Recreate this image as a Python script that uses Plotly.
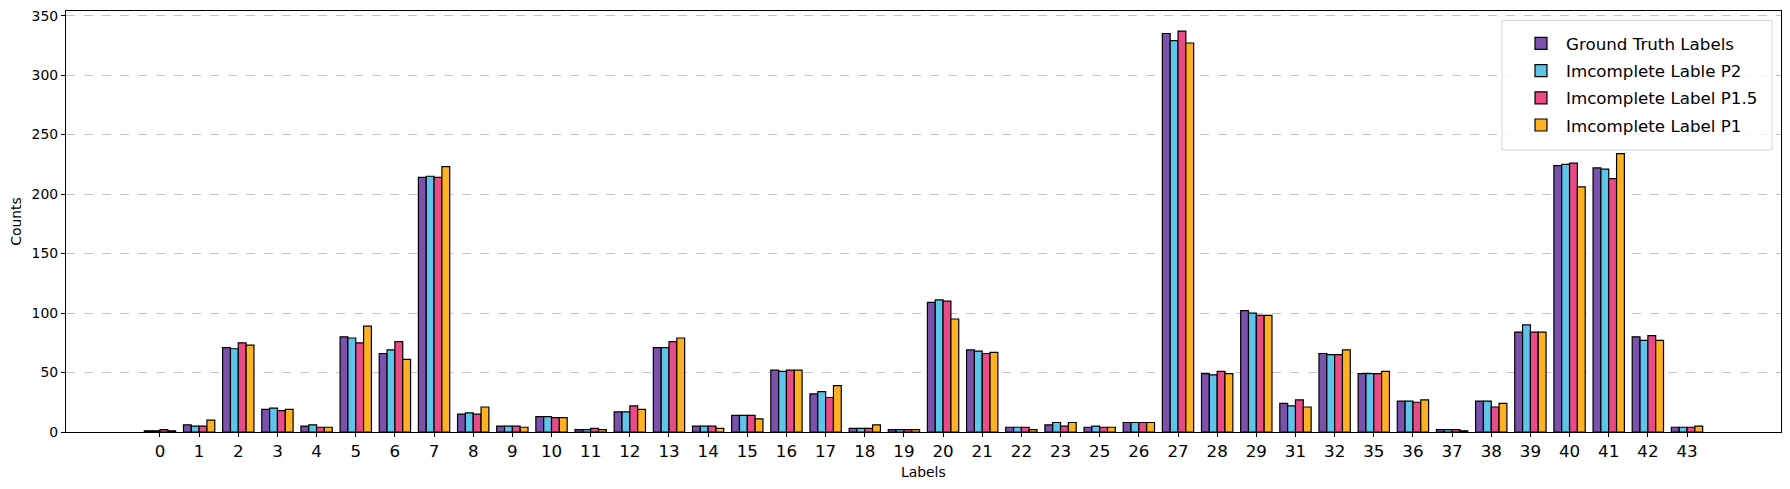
import plotly.graph_objects as go

categories = ["0","1","2","3","4","5","6","7","8","9","10","11","12","13","14","15","16","17","18","19",
              "20","21","22","23","25","26","27","28","29","31","32","35","36","37","38","39","40","41","42","43"]

ground_truth = [1,6,71,19,5,80,66,214,15,5,13,2,17,71,5,14,52,32,3,2,
                109,69,4,6,4,8,335,49,102,24,66,49,26,2,26,84,224,222,80,4]
incomplete_p2 = [1,5,70,20,6,79,69,215,16,5,13,2,17,71,5,14,51,34,3,2,
                 111,68,4,8,5,8,329,48,100,22,65,49,26,2,26,90,225,221,77,4]
incomplete_p15 = [2,5,75,18,4,75,76,214,15,5,12,3,22,76,5,14,52,29,3,2,
                  110,66,4,5,4,8,337,51,98,27,65,49,25,2,21,84,226,213,81,4]
incomplete_p1 = [1,10,73,19,4,89,61,223,21,4,12,2,19,79,3,11,52,39,6,2,
                 95,67,2,8,4,8,327,49,98,21,69,51,27,1,24,84,206,234,77,5]

series_names = ["Ground Truth Labels", "Imcomplete Lable P2", "Imcomplete Label P1.5", "Imcomplete Label P1"]
series_values = [ground_truth, incomplete_p2, incomplete_p15, incomplete_p1]
colors = ["#7B52AB", "#5EC4EA", "#E94B86", "#FFB124"]

fig = go.Figure()
for i, (name, vals, col) in enumerate(zip(series_names, series_values, colors)):
    fig.add_trace(go.Bar(
        x=categories, y=vals, name=name, legendgroup=f"g{i}",
        marker=dict(color=col, line=dict(color="black", width=1.2)),
    ))

W, H = 1790, 489
OFF = 8  # browser body margin
# plot area in page pixels
PL, PR, PT, PB = 66, 1781, 11, 432
ml, mt = PL - OFF, PT - OFF
mr = W - (PR - OFF)
mb = H - (PB - OFF)
pw, ph = PR - PL, PB - PT

def px_x(x):
    return (x - PL) / pw

def px_y(y):
    return 1 - (y - PT) / ph

fig.update_layout(
    width=W, height=H,
    margin=dict(l=ml, r=mr, t=mt, b=mb, pad=0),
    barmode="group", bargap=0.2, bargroupgap=0,
    plot_bgcolor="white", paper_bgcolor="white",
    font=dict(family="DejaVu Sans", color="black", size=14),
    showlegend=True,
    legend=dict(
        x=px_x(1516), xanchor="left",
        y=px_y(26), yanchor="top",
        bgcolor="rgba(0,0,0,0)", borderwidth=0,
        font=dict(size=16.7, family="DejaVu Sans"),
        itemwidth=40, tracegroupgap=2.5, traceorder="grouped",
    ),
    shapes=[dict(
        type="rect", xref="paper", yref="paper", layer="above",
        x0=px_x(1502), x1=px_x(1772), y0=px_y(150), y1=px_y(20.5),
        fillcolor="rgba(255,255,255,0.8)", line=dict(color="#d6d6d6", width=1),
    )],
    annotations=[dict(
        text="Labels", xref="paper", yref="paper",
        x=px_x(923), y=px_y(472), xanchor="center", yanchor="middle",
        showarrow=False, font=dict(size=13.9, family="DejaVu Sans", color="black"),
    )],
)
fig.update_xaxes(
    type="category", range=[-2.4, 41.4], automargin=False, ticklabeloverflow="allow",
    showline=True, linecolor="black", linewidth=1.2, mirror=True,
    ticks="outside", ticklen=4, tickcolor="black", tickwidth=1,
    tickfont=dict(size=16.7), showgrid=False,
)
fig.update_yaxes(
    range=[0, 353.9], tickvals=[0, 50, 100, 150, 200, 250, 300, 350],
    automargin=False, ticklabeloverflow="allow",
    showline=True, linecolor="black", linewidth=1.2, mirror=True,
    ticks="outside", ticklen=4, tickcolor="black", tickwidth=1,
    tickfont=dict(size=13.9),
    showgrid=True, gridcolor="rgba(180,180,180,0.8)", griddash="dash", gridwidth=1,
    zeroline=False,
    title=dict(text="Counts", font=dict(size=13.9), standoff=7),
)

fig.write_html("out.html")
